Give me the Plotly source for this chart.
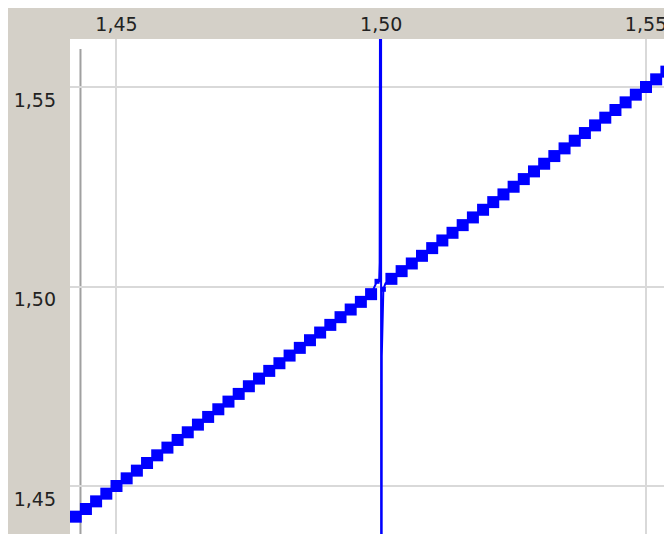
import plotly.graph_objects as go

# Regular samples (left of the singularity at 1.50)
left_x = [1.44231, 1.44423, 1.44615, 1.44808, 1.45000, 1.45192, 1.45385, 1.45577,
          1.45769, 1.45962, 1.46154, 1.46346, 1.46538, 1.46731, 1.46923, 1.47115,
          1.47308, 1.47500, 1.47692, 1.47885, 1.48077, 1.48269, 1.48462, 1.48654,
          1.48846, 1.49038, 1.49231, 1.49423, 1.49615, 1.49808]
left_y = [1.44231, 1.44423, 1.44615, 1.44808, 1.45000, 1.45192, 1.45385, 1.45577,
          1.45769, 1.45962, 1.46154, 1.46346, 1.46538, 1.46731, 1.46923, 1.47115,
          1.47308, 1.47500, 1.47692, 1.47885, 1.48077, 1.48269, 1.48462, 1.48654,
          1.48846, 1.49038, 1.49231, 1.49423, 1.49615, 1.49808]

# Samples right of the singularity
right_x = [1.50192, 1.50385, 1.50577, 1.50769, 1.50962, 1.51154, 1.51346, 1.51538,
           1.51731, 1.51923, 1.52115, 1.52308, 1.52500, 1.52692, 1.52885, 1.53077,
           1.53269, 1.53462, 1.53654, 1.53846, 1.54038, 1.54231, 1.54423, 1.54615,
           1.54808, 1.55000, 1.55192, 1.55385, 1.55577]
right_y = [1.50192, 1.50385, 1.50577, 1.50769, 1.50962, 1.51154, 1.51346, 1.51538,
           1.51731, 1.51923, 1.52115, 1.52308, 1.52500, 1.52692, 1.52885, 1.53077,
           1.53269, 1.53462, 1.53654, 1.53846, 1.54038, 1.54231, 1.54423, 1.54615,
           1.54808, 1.55000, 1.55192, 1.55385, 1.55577]

# Points around the singularity at x = 1.50
sing_left_x = [1.4992, 1.4996, 1.4997, 1.49995]
sing_left_y = [1.5013, 1.5013, 1.5060, 1.75]
sing_right_x = [1.5000, 1.5000, 1.5001, 1.5004, 1.5008]
sing_right_y = [1.25, 1.4750, 1.4825, 1.4993, 1.5008]

small_pts_x = [1.4992, 1.5004]
small_pts_y = [1.5013, 1.4993]

axis_line_x = 1.4432

tick_vals = [1.45, 1.50, 1.55]

BLUE = "#0000ff"

line_x = left_x + sing_left_x + sing_right_x + right_x
line_y = left_y + sing_left_y + sing_right_y + right_y

fig = go.Figure()
fig.add_trace(go.Scatter(x=line_x, y=line_y, mode="lines",
                         line=dict(color=BLUE, width=2), hoverinfo="skip"))
fig.add_trace(go.Scatter(x=left_x + right_x, y=left_y + right_y, mode="markers",
                         marker=dict(symbol="square", size=12, color=BLUE,
                                     line=dict(width=0))))
fig.add_trace(go.Scatter(x=small_pts_x, y=small_pts_y, mode="markers",
                         marker=dict(symbol="square", size=5, color=BLUE,
                                     line=dict(width=0))))

# page has an 8px body margin; figure fills the rest of the 672x534 window
W, H = 664, 526
L, T = 62, 31
ph = H - T

fig.add_shape(type="line", xref="x", yref="paper",
              x0=axis_line_x, x1=axis_line_x, y0=-0.02, y1=(H - 41) / ph,
              line=dict(color="#a0a0a0", width=2), layer="below")

fig.update_layout(
    width=W, height=H,
    margin=dict(l=L, r=0, t=T, b=0, pad=0),
    paper_bgcolor="#d4d0c8", plot_bgcolor="white",
    separators=", ",
    showlegend=False,
    font=dict(family="DejaVu Sans", size=19, color="#222222"),
    xaxis=dict(range=[1.44122, 1.55491], side="top", tickvals=tick_vals,
               tickformat=".2f", showgrid=True, gridcolor="#d9d9d9", gridwidth=2,
               zeroline=False, showline=False, ticks="", ticklabelstandoff=3),
    yaxis=dict(range=[1.43797, 1.56203], tickvals=tick_vals, tickformat=".2f",
               showgrid=True, gridcolor="#d9d9d9", gridwidth=2,
               zeroline=False, showline=False, ticks="",
               ticklabelshift=13, ticklabelstandoff=13),
)

fig.write_html("out.html")
